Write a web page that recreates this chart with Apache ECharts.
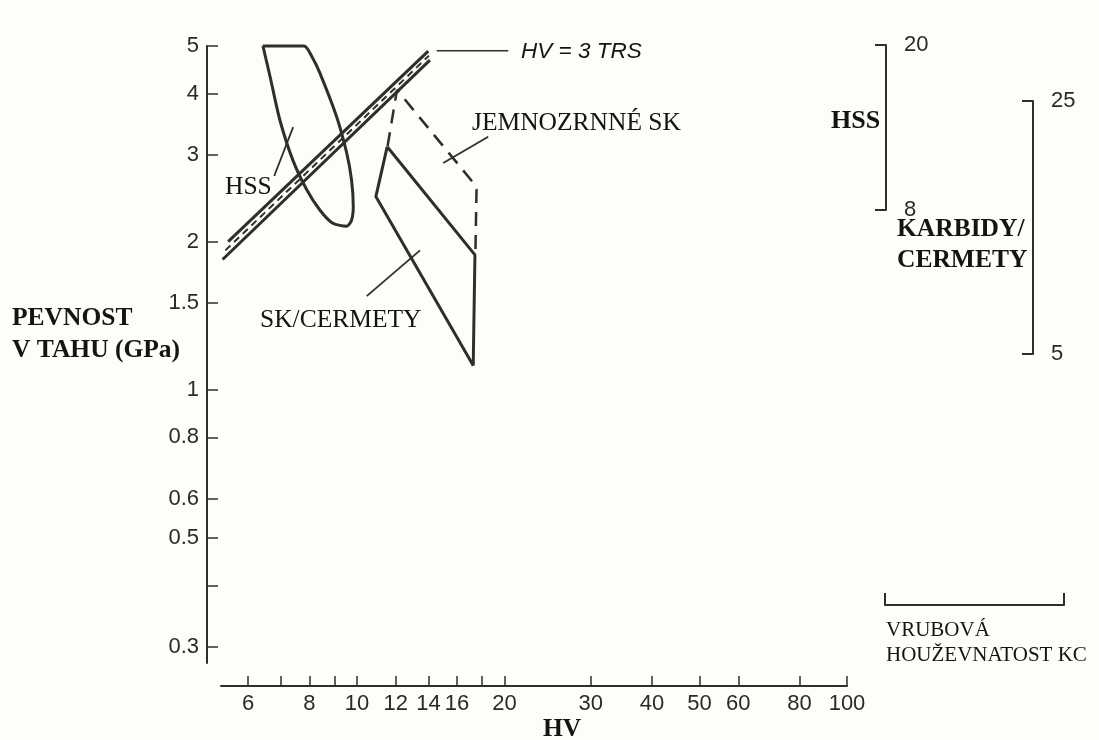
<!DOCTYPE html>
<html>
<head>
<meta charset="utf-8">
<script src="https://cdn.jsdelivr.net/npm/echarts@6/dist/echarts.min.js"></script>
<style>
  html, body { margin: 0; background: #fffdf7; }
  #chart { width: 1099px; height: 740px; }
</style>
</head>
<body>
<div id="chart"></div>
<script>
// ====== osy (HV, pevnost v tahu GPa) ======
const HV_TICKS   = [6, 7, 8, 9, 10, 12, 14, 16, 18, 20, 30, 40, 50, 60, 80, 100];
const HV_LABELS  = [6, 8, 10, 12, 14, 16, 20, 30, 40, 50, 60, 80, 100];
const TRS_TICKS  = [0.3, 0.4, 0.5, 0.6, 0.8, 1, 1.5, 2, 3, 4, 5];
const TRS_LABELS = [0.3, 0.5, 0.6, 0.8, 1, 1.5, 2, 3, 4, 5];

// ====== oblasti [HV, GPa] ======
const HSS_LOOP = [[6.42,5.0],[7.80,5.0],[8.10,4.75],[8.40,4.41],[9.09,3.59],[9.53,3.03],[9.75,2.67],[9.83,2.36],
                  [9.75,2.21],[9.53,2.15],[8.93,2.18],[8.40,2.32],[7.90,2.55],[7.40,2.93],[6.96,3.54],
                  [6.65,4.33],[6.43,5.0]];
const SK_CERMETY = [[11.53,3.12],[10.93,2.47],[17.27,1.12],[17.41,1.88],[11.53,3.12]];
const JEMNOZRNNE = [[11.55,3.13],[12.07,4.07],[17.2,2.65],[17.54,2.55],[17.45,1.90]];
const TRS_UPPER  = [[5.46,2.00],[13.98,4.88]];
const TRS_LOWER  = [[5.32,1.84],[14.09,4.68]];
const TRS_MID    = [[5.39,1.92],[14.03,4.78]];

// odkazové čáry k popiskům
const HSS_LEADER = [[7.41,3.42],[6.78,2.72]];
const SK_LEADER  = [[10.47,1.55],[13.45,1.92]];
const JEM_LEADER = [[18.53,3.27],[15.0,2.89]];
const TRS_LEADER = [[14.55,4.89],[20.36,4.89]];

// rozsahy vpravo
const HSS_RANGE = [8, 20];
const KC_RANGE  = [5, 25];
const VRUB_RANGE = [0, 1];

// ====== vzhled ======
const INK = '#2e2e2e';
const NUM = '#2a2a2a';
const SANS = '"Liberation Sans", Arial, sans-serif';
const SERIF = '"Liberation Serif", "Times New Roman", serif';

function poly(data, width, type){
  return {
    type: 'line', data, xAxisIndex: 0, yAxisIndex: 0,
    symbol: 'none', clip: false, silent: true,
    lineStyle: { color: INK, width, type: type || 'solid' },
  };
}

function bracketY(grid, range){
  return {
    gridIndex: grid, type: 'value', position: 'right', min: range[0], max: range[1],
    axisLine: { show: true, lineStyle: { color: INK, width: 2 } },
    axisTick: { show: true, inside: true, length: 11, customValues: range, lineStyle: { color: INK, width: 2 } },
    axisLabel: { show: true, customValues: range, margin: 8, fontSize: 22, fontFamily: SANS, color: NUM },
    splitLine: { show: false },
  };
}

function label(x, y, str, font, valign, lineHeight){
  return {
    type: 'text', x, y, silent: true,
    style: { text: str, font, fill: '#141414', lineHeight: lineHeight || undefined,
             align: 'left', textAlign: 'left',
             verticalAlign: valign || 'middle', textVerticalAlign: valign || 'middle' }
  };
}

const chart = echarts.init(document.getElementById('chart'));
chart.setOption({
  animation: false,
  backgroundColor: '#fffdf7',
  grid: [
    { left: 221, top: 46, width: 626, height: 617 },
    { left: 886, top: 45, width: 10, height: 165 },
    { left: 1033, top: 101, width: 10, height: 253 },
    { left: 885, top: 593, width: 179, height: 12 },
  ],
  xAxis: [
    {
      gridIndex: 0, type: 'log', min: 5.28, max: 100, offset: 23,
      axisLine: { lineStyle: { color: INK, width: 2 } },
      axisTick: { inside: true, length: 10, customValues: HV_TICKS, lineStyle: { color: INK, width: 1.5 } },
      axisLabel: { customValues: HV_LABELS, margin: 7, fontSize: 22, fontFamily: SANS, color: NUM,
                   formatter: v => String(v) },
      splitLine: { show: false }, minorTick: { show: false },
    },
    { gridIndex: 1, type: 'value', show: false },
    { gridIndex: 2, type: 'value', show: false },
    {
      gridIndex: 3, type: 'value', position: 'bottom', min: VRUB_RANGE[0], max: VRUB_RANGE[1],
      axisLine: { lineStyle: { color: INK, width: 2 } },
      axisTick: { inside: true, length: 12, customValues: VRUB_RANGE, lineStyle: { color: INK, width: 2 } },
      axisLabel: { show: false }, splitLine: { show: false },
    },
  ],
  yAxis: [
    {
      gridIndex: 0, type: 'log', min: 0.278, max: 5, offset: 14,
      axisLine: { lineStyle: { color: INK, width: 2 } },
      axisTick: { inside: true, length: 11, customValues: TRS_TICKS, lineStyle: { color: INK, width: 1.5 } },
      axisLabel: { customValues: TRS_LABELS, margin: 8, fontSize: 22, fontFamily: SANS, color: NUM,
                   formatter: v => String(v) },
      splitLine: { show: false }, minorTick: { show: false },
    },
    bracketY(1, HSS_RANGE),
    bracketY(2, KC_RANGE),
    { gridIndex: 3, type: 'value', show: false },
  ],
  series: [
    Object.assign(poly(HSS_LOOP, 3), { smooth: 0.25 }),
    poly(SK_CERMETY, 3),
    poly(JEMNOZRNNE, 2.5, [14, 9]),
    poly(TRS_UPPER, 3),
    poly(TRS_LOWER, 3),
    poly(TRS_MID, 2, [7, 5]),
    poly(HSS_LEADER, 1.8),
    poly(SK_LEADER, 1.8),
    poly(JEM_LEADER, 1.8),
    poly(TRS_LEADER, 1.5),
  ],
  graphic: [
    label(12, 302, 'PEVNOST\nV TAHU (GPa)', 'bold 25.5px ' + SERIF, 'top', 32),
    label(543, 729, 'HV', 'bold 25.5px ' + SERIF),
    label(225, 187, 'HSS', '25.5px ' + SERIF),
    label(260, 320, 'SK/CERMETY', '25.5px ' + SERIF),
    label(472, 123, 'JEMNOZRNNÉ SK', '25.5px ' + SERIF),
    label(521, 52, 'HV = 3 TRS', 'italic 22.5px ' + SANS),
    label(831, 121, 'HSS', 'bold 26px ' + SERIF),
    label(897, 214, 'KARBIDY/\nCERMETY', 'bold 25.5px ' + SERIF, 'top', 31),
    label(886, 618, 'VRUBOVÁ\nHOUŽEVNATOST KC', '21px ' + SERIF, 'top', 25),
  ],
});
</script>
</body>
</html>
